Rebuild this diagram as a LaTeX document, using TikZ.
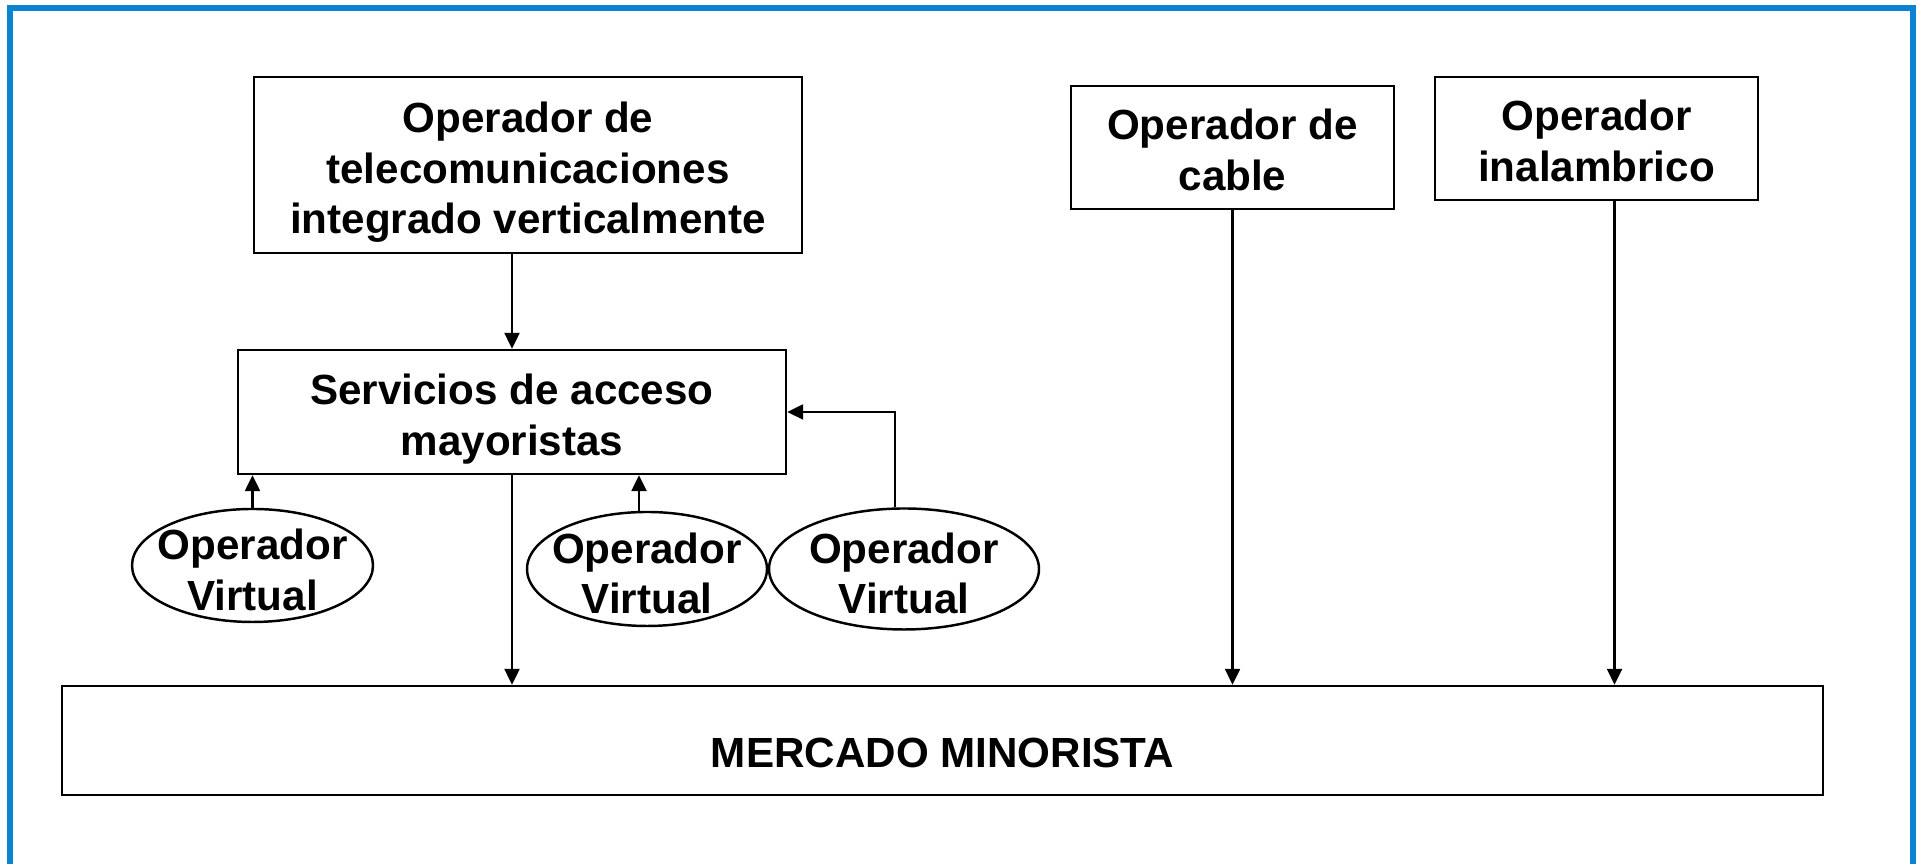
\documentclass[tikz,border=0pt]{standalone}
\usepackage{fontspec}
\setmainfont{Liberation Sans}
\usetikzlibrary{arrows.meta,shapes.geometric}
\definecolor{marco}{HTML}{0A84D2}

\begin{document}
\begin{tikzpicture}[
    font=\bfseries\fontsize{12}{14.4}\selectfont,
    caja/.style={rectangle, draw=black, line width=0.7pt, align=center,
                 inner sep=0pt},
    virt/.style={ellipse, draw=black, line width=0.7pt, align=center,
                 inner sep=-0.3cm, text height=25.6pt,
                 minimum width=2.40cm, minimum height=1.14cm},
    bajo/.style={text height=#1},
    flecha/.style={black, line width=0.7pt,
                   -{Triangle[length=0.16cm, width=0.15cm]}},
]
\useasboundingbox (0,0) rectangle (19.17,8.64);

% ---- marco ----
\draw[marco, line width=1.7pt] (0.10,0) |- (19.13,8.56) -- (19.13,0);

% ---- operadores ----
\node[caja, bajo=41.6pt, minimum width=5.48cm, minimum height=1.76cm] (telco) at (5.28,6.99)
    {Operador de\\telecomunicaciones\\integrado verticalmente};
\node[caja, bajo=24.4pt, minimum width=3.23cm, minimum height=1.23cm] (cable) at (12.325,7.165)
    {Operador de\\cable};
\node[caja, bajo=24.6pt, minimum width=3.23cm, minimum height=1.23cm] (inal) at (15.965,7.255)
    {Operador\\inalambrico};

% ---- acceso mayorista y operadores virtuales ----
\node[caja, bajo=27.3pt, minimum width=5.48cm, minimum height=1.24cm] (serv) at (5.12,4.52)
    {Servicios de acceso\\mayoristas};
\node[virt, minimum width=2.41cm, minimum height=1.13cm] (virt1) at (2.525,2.985)
    {Operador\\Virtual};
\node[virt] (virt2) at (6.47,2.95) {Operador\\Virtual};
\node[virt, minimum width=2.70cm, minimum height=1.21cm] (virt3) at (9.04,2.95)
    {Operador\\Virtual};

% ---- mercado ----
\node[caja, bajo=15.1pt, text depth=0pt, minimum width=17.61cm, minimum height=1.09cm]
    (merc) at (9.425,1.235) {MERCADO MINORISTA};

% ---- flechas ----
\draw[flecha] (serv.north |- telco.south) -- (serv.north);
\draw[flecha] (serv.south) -- (serv.south |- merc.north);
\draw[flecha] (virt1.north) -- (virt1.north |- serv.south);
\draw[flecha] ([xshift=-0.08cm]virt2.north) -- ([xshift=-0.08cm]virt2.north |- serv.south);
\draw[flecha] ([xshift=-0.09cm]virt3.north) |- (serv.east);
\draw[flecha] (cable.south) -- (cable.south |- merc.north);
\draw[flecha] ([xshift=0.18cm]inal.south) -- ([xshift=0.18cm]inal.south |- merc.north);
\end{tikzpicture}
\end{document}
